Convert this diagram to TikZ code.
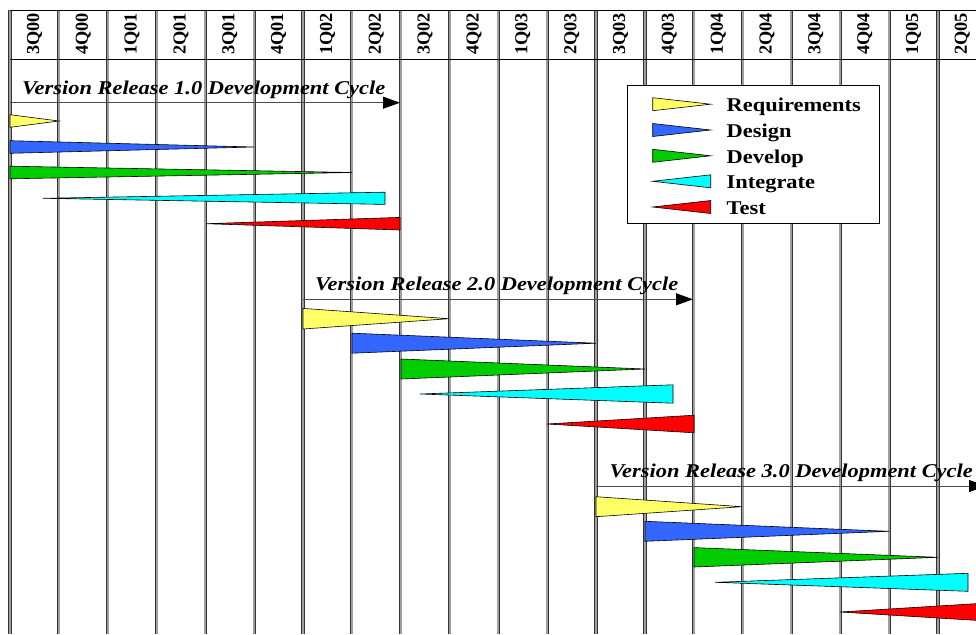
\documentclass[tikz,border=0pt]{standalone}
\usepackage{fontspec}
\setmainfont{Liberation Serif}
\usepackage{graphicx}
\usepackage{xcolor}
\definecolor{phreq}{HTML}{FFFF66}
\definecolor{phdes}{HTML}{3366FF}
\definecolor{phdev}{HTML}{00CC00}
\definecolor{phint}{HTML}{00FFFF}
\definecolor{phtst}{HTML}{FF0000}
\usepackage{tikz}
\usetikzlibrary{arrows.meta}
\newcommand{\widetxt}[1]{\scalebox{1.15}[1]{#1}}

\begin{document}
\begin{tikzpicture}[
  x=1pt, y=-1pt,
  every node/.style={inner sep=0pt},
  qtr/.style={rotate=90, font=\fontsize{18.3}{20}\selectfont\bfseries},
  vline/.style={draw=black!80, line width=0.6pt, double=gray!75,
                double distance=2pt},
  hline/.style={draw=black, line width=0.7pt},
  cyc/.style={anchor=base west,
              font=\fontsize{19.5}{22}\selectfont\bfseries\itshape},
  cycarrow/.style={draw=black!70, line width=0.9pt,
                   -{Triangle[length=17pt,width=12pt,color=black]}},
  bar/.style={draw=black, line width=0.6pt},
  lgd/.style={anchor=base west, font=\fontsize{19.5}{22}\selectfont\bfseries}
]
\useasboundingbox (0,0) rectangle (976,634);
\clip (0,0) rectangle (976,634);

%% Quarter grid
\foreach \i in {0,...,20}
  \draw[vline] ({10+48.84*\i},10) -- ({10+48.84*\i},634);
\draw[hline] (10,10) -- (988,10);
\draw[hline] (10,59) -- (988,59);

%% Quarter labels
\foreach \q [count=\i from 0] in {3Q00,4Q00,1Q01,2Q01,3Q01,4Q01,1Q02,2Q02,
    3Q02,4Q02,1Q03,2Q03,3Q03,4Q03,1Q04,2Q04,3Q04,4Q04,1Q05,2Q05}
  \node[qtr] (q\i) at ({34.4+48.84*\i},34) {\q};

%% Release cycles
\coordinate (r1a) at (10,102.7);  \coordinate (r1b) at (400,102.7);
\coordinate (r2a) at (303,299.3); \coordinate (r2b) at (693,299.3);
\coordinate (r3a) at (596,486);   \coordinate (r3b) at (986,486);
\node[cyc] (r1txt) at (22,94.3)
  {\widetxt{Version Release 1.0 Development Cycle}};
\node[cyc] (r2txt) at (315,290)
  {\widetxt{Version Release 2.0 Development Cycle}};
\node[cyc] (r3txt) at (609.5,477.7)
  {\widetxt{Version Release 3.0 Development Cycle}};
\foreach \r in {1,2,3}
  \draw[cycarrow] (r\r a) -- (r\r b);

%% Phase wedges (wide end / tip / row / half height)
\foreach \c/\xa/\xb/\y/\h in {
    phreq/10/59/121/6.3, phdes/10/254/147/6.3, phdev/10/352/172.5/6.3,
    phint/385/43/198.3/6.1, phtst/400/206/223.7/6.3,
    phreq/303/449/318.7/10.3, phdes/352/596/343.2/10, phdev/401/645/369/10,
    phint/673/420/394/9.2, phtst/694/547/424/8.8,
    phreq/596/742/506.7/10, phdes/645/889/531.3/10, phdev/694/938/557.3/9.7,
    phint/968/715/582.3/9, phtst/987/840/612/9}
  \filldraw[bar, fill=\c] (\xa,\y-\h) -- (\xa,\y+\h) -- (\xb,\y) -- cycle;

%% Legend
\node[draw=black, fill=white, line width=0.7pt, minimum width=252pt,
      minimum height=138pt] (lgdbox) at (753,154) {};
\foreach \c/\xa/\xb/\y/\txt [count=\k] in {
    phreq/652.7/710.7/104.2/Requirements, phdes/652.7/710.7/130/Design,
    phdev/652.7/710.7/155.8/Develop, phint/710.7/652.7/181.3/Integrate,
    phtst/710.7/652.7/207/Test} {
  \filldraw[bar, fill=\c] (\xa,\y-6.5) -- (\xa,\y+6.5) -- (\xb,\y) -- cycle;
  \node[lgd] (lgd\k) at (726.5,\y+7.5) {\widetxt{\txt}};
}

\end{tikzpicture}
\end{document}
